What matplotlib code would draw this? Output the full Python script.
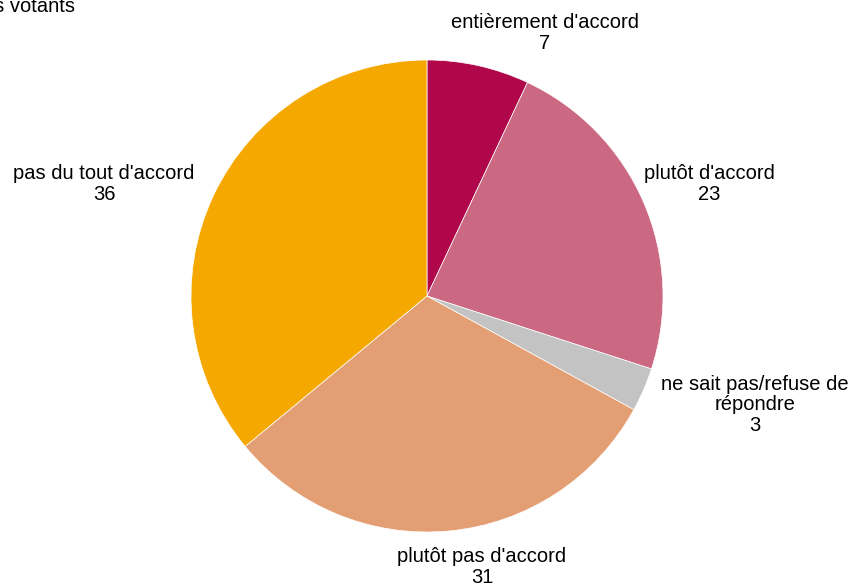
import matplotlib
matplotlib.use('Agg')
import matplotlib.pyplot as plt

plt.rcParams['font.family'] = ['Liberation Sans', 'DejaVu Sans']

# data, clockwise from 12 o'clock
categories = ["entièrement d'accord", "plutôt d'accord", "ne sait pas/refuse de\nrépondre",
              "plutôt pas d'accord", "pas du tout d'accord"]
values = [7, 23, 3, 31, 36]
colors = ['#B0064A', '#CB6882', '#C3C3C3', '#E39F73', '#F5A800']
# label centres in pixels (x, y from top)
label_pos = [(545, 33), (709, 184), (755, 405), (482, 567), (104, 184)]

W, H = 853, 584
fig = plt.figure(figsize=(W / 100, H / 100), dpi=100)
ax = fig.add_axes([0, 0, 1, 1])

ax.pie(values, colors=colors, startangle=90, counterclock=False,
       center=(427, H - 296), radius=236, frame=True,
       wedgeprops=dict(linewidth=0.5, edgecolor='white'))
ax.set_xlim(0, W)
ax.set_ylim(0, H)
ax.set_aspect('equal')
ax.axis('off')

for cat, v, (x, y) in zip(categories, values, label_pos):
    ax.text(x, H - y, f"{cat}\n{v}", ha='center', va='center', fontsize=14.5,
            linespacing=1.08, color='black')

fig.text(75 / W, 1 - 6 / H, "en % des votants", ha='right', va='center', fontsize=14.5)

fig.savefig('out.png', dpi=100)
